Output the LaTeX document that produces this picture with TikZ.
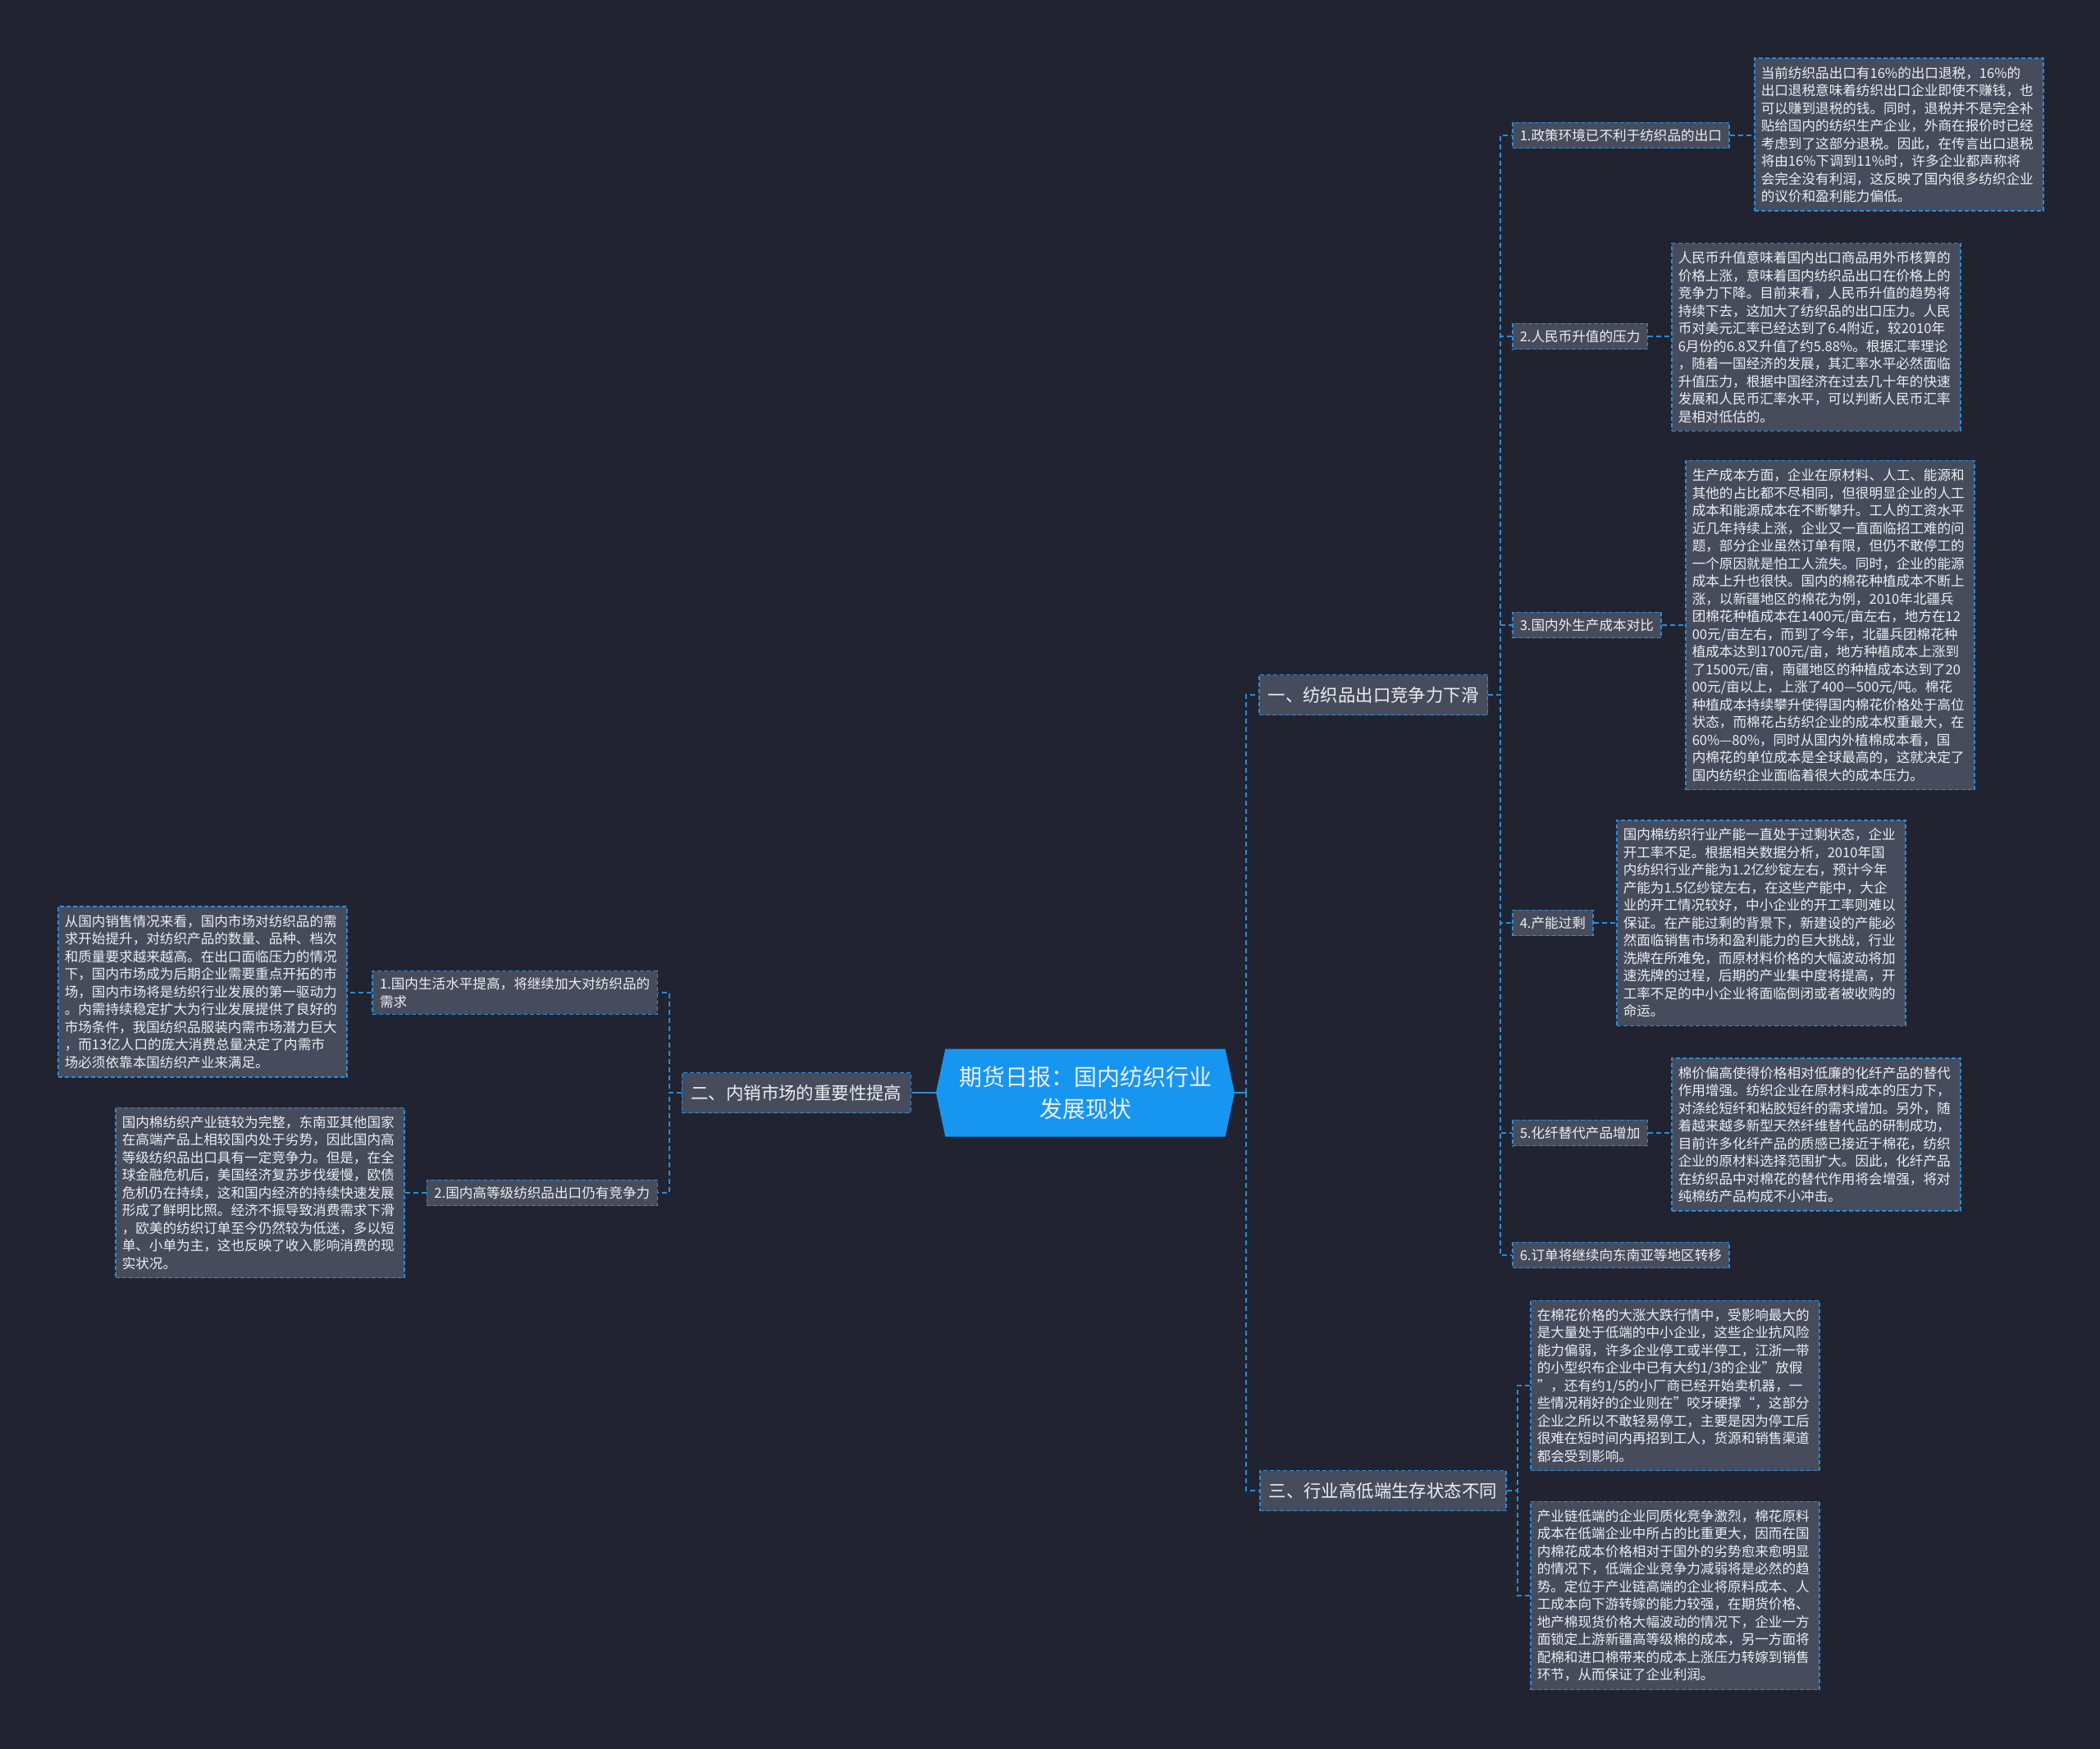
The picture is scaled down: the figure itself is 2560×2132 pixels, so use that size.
\documentclass[tikz,border=0pt]{standalone}
\usepackage{fontspec}
\setmainfont{Noto Sans CJK SC}
\usetikzlibrary{shapes.symbols}
\definecolor{bgcol}{RGB}{33,36,48}
\definecolor{boxcol}{RGB}{71,76,92}
\definecolor{linecol}{RGB}{40,140,220}
\definecolor{rootcol}{RGB}{22,150,240}
\definecolor{txtcol}{RGB}{236,238,242}
\tikzset{link/.style={draw=linecol, line width=1.8pt, dash pattern=on 6pt off 4pt},
        rootlink/.style={draw=linecol, line width=1.8pt},
        root/.style={signal, signal to=west and east, signal pointer angle=156,
                     fill=rootcol, text=txtcol, align=center,
                     font=\fontsize{28}{39}\selectfont,
                     minimum width=364pt, minimum height=107pt, inner sep=0pt},
        topic/.style={fill=boxcol, draw=linecol, line width=1.5pt, dash pattern=on 5pt off 3pt,
                      text=txtcol, font=\fontsize{21.4}{26}\selectfont,
                      minimum height=49pt, inner xsep=11pt, inner ysep=6pt},
        leaf/.style={fill=boxcol, draw=linecol, line width=1.5pt, dash pattern=on 5pt off 3pt,
                     text=txtcol, align=left, font=\fontsize{16.6}{21.5}\selectfont,
                     inner xsep=9pt, inner ysep=8pt},
        note/.style={fill=boxcol, draw=linecol, line width=1.5pt, dash pattern=on 5pt off 3pt,
                     text=txtcol, align=left, text width=336pt,
                     font=\fontsize{16.6}{21.5}\selectfont,
                     inner xsep=8pt, inner ysep=10pt},
        }

\begin{document}
\begin{tikzpicture}[x=1pt, y=-1pt]
    \fill[bgcol] (0,0) rectangle (2560,2132);
    \useasboundingbox (0,0) rectangle (2560,2132);

    \node[root] (root) at (1323,1332) {期货日报：国内纺织行业\\发展现状};

    \node[topic, anchor=west] (exp) at (1534,847) {一、纺织品出口竞争力下滑};
    \node[topic, anchor=east] (dom) at (1111,1332) {二、内销市场的重要性提高};
    \node[topic, anchor=west] (tier) at (1535,1817) {三、行业高低端生存状态不同};

    % export branch
    \node[leaf, anchor=west] (policy) at (1843,165) {1.政策环境已不利于纺织品的出口};
    \node[leaf, anchor=west] (rmb) at (1843,410) {2.人民币升值的压力};
    \node[leaf, anchor=west] (cost) at (1843,762) {3.国内外生产成本对比};
    \node[leaf, anchor=west] (over) at (1843,1125) {4.产能过剩};
    \node[leaf, anchor=west] (fiber) at (1843,1381) {5.化纤替代产品增加};
    \node[leaf, anchor=west] (order) at (1843,1530) {6.订单将继续向东南亚等地区转移};

    \node[note, anchor=west] (policyNote) at (2138,164) {当前纺织品出口有16\%的出口退税，16\%的\\出口退税意味着纺织出口企业即使不赚钱，也\\可以赚到退税的钱。同时，退税并不是完全补\\贴给国内的纺织生产企业，外商在报价时已经\\考虑到了这部分退税。因此，在传言出口退税\\将由16\%下调到11\%时，许多企业都声称将\\会完全没有利润，这反映了国内很多纺织企业\\的议价和盈利能力偏低。};
    \node[note, anchor=west] (rmbNote) at (2037,411) {人民币升值意味着国内出口商品用外币核算的\\价格上涨，意味着国内纺织品出口在价格上的\\竞争力下降。目前来看，人民币升值的趋势将\\持续下去，这加大了纺织品的出口压力。人民\\币对美元汇率已经达到了6.4附近，较2010年\\6月份的6.8又升值了约5.88\%。根据汇率理论\\，随着一国经济的发展，其汇率水平必然面临\\升值压力，根据中国经济在过去几十年的快速\\发展和人民币汇率水平，可以判断人民币汇率\\是相对低估的。};
    \node[note, anchor=west] (costNote) at (2054,762) {生产成本方面，企业在原材料、人工、能源和\\其他的占比都不尽相同，但很明显企业的人工\\成本和能源成本在不断攀升。工人的工资水平\\近几年持续上涨，企业又一直面临招工难的问\\题，部分企业虽然订单有限，但仍不敢停工的\\一个原因就是怕工人流失。同时，企业的能源\\成本上升也很快。国内的棉花种植成本不断上\\涨，以新疆地区的棉花为例，2010年北疆兵\\团棉花种植成本在1400元/亩左右，地方在12\\00元/亩左右，而到了今年，北疆兵团棉花种\\植成本达到1700元/亩，地方种植成本上涨到\\了1500元/亩，南疆地区的种植成本达到了20\\00元/亩以上，上涨了400—500元/吨。棉花\\种植成本持续攀升使得国内棉花价格处于高位\\状态，而棉花占纺织企业的成本权重最大，在\\60\%—80\%，同时从国内外植棉成本看，国\\内棉花的单位成本是全球最高的，这就决定了\\国内纺织企业面临着很大的成本压力。};
    \node[note, anchor=west] (overNote) at (1970,1125) {国内棉纺织行业产能一直处于过剩状态，企业\\开工率不足。根据相关数据分析，2010年国\\内纺织行业产能为1.2亿纱锭左右，预计今年\\产能为1.5亿纱锭左右，在这些产能中，大企\\业的开工情况较好，中小企业的开工率则难以\\保证。在产能过剩的背景下，新建设的产能必\\然面临销售市场和盈利能力的巨大挑战，行业\\洗牌在所难免，而原材料价格的大幅波动将加\\速洗牌的过程，后期的产业集中度将提高，开\\工率不足的中小企业将面临倒闭或者被收购的\\命运。};
    \node[note, anchor=west] (fiberNote) at (2037,1383) {棉价偏高使得价格相对低廉的化纤产品的替代\\作用增强。纺织企业在原材料成本的压力下，\\对涤纶短纤和粘胶短纤的需求增加。另外，随\\着越来越多新型天然纤维替代品的研制成功，\\目前许多化纤产品的质感已接近于棉花，纺织\\企业的原材料选择范围扩大。因此，化纤产品\\在纺织品中对棉花的替代作用将会增强，将对\\纯棉纺产品构成不小冲击。};

    % tier branch
    \node[note, anchor=west] (lowNote) at (1865,1689) {在棉花价格的大涨大跌行情中，受影响最大的\\是大量处于低端的中小企业，这些企业抗风险\\能力偏弱，许多企业停工或半停工，江浙一带\\的小型织布企业中已有大约1/3的企业”放假\\”，还有约1/5的小厂商已经开始卖机器，一\\些情况稍好的企业则在”咬牙硬撑“，这部分\\企业之所以不敢轻易停工，主要是因为停工后\\很难在短时间内再招到工人，货源和销售渠道\\都会受到影响。};
    \node[note, anchor=west] (highNote) at (1865,1945) {产业链低端的企业同质化竞争激烈，棉花原料\\成本在低端企业中所占的比重更大，因而在国\\内棉花成本价格相对于国外的劣势愈来愈明显\\的情况下，低端企业竞争力减弱将是必然的趋\\势。定位于产业链高端的企业将原料成本、人\\工成本向下游转嫁的能力较强，在期货价格、\\地产棉现货价格大幅波动的情况下，企业一方\\面锁定上游新疆高等级棉的成本，另一方面将\\配棉和进口棉带来的成本上涨压力转嫁到销售\\环节，从而保证了企业利润。};

    % domestic branch
    \node[leaf, anchor=east] (life) at (802,1210) {1.国内生活水平提高，将继续加大对纺织品的\\需求};
    \node[leaf, anchor=east] (grade) at (802,1454) {2.国内高等级纺织品出口仍有竞争力};
    \node[note, anchor=west] (lifeNote) at (70,1209) {从国内销售情况来看，国内市场对纺织品的需\\求开始提升，对纺织产品的数量、品种、档次\\和质量要求越来越高。在出口面临压力的情况\\下，国内市场成为后期企业需要重点开拓的市\\场，国内市场将是纺织行业发展的第一驱动力\\。内需持续稳定扩大为行业发展提供了良好的\\市场条件，我国纺织品服装内需市场潜力巨大\\，而13亿人口的庞大消费总量决定了内需市\\场必须依靠本国纺织产业来满足。};
    \node[note, anchor=west] (gradeNote) at (140,1454) {国内棉纺织产业链较为完整，东南亚其他国家\\在高端产品上相较国内处于劣势，因此国内高\\等级纺织品出口具有一定竞争力。但是，在全\\球金融危机后，美国经济复苏步伐缓慢，欧债\\危机仍在持续，这和国内经济的持续快速发展\\形成了鲜明比照。经济不振导致消费需求下滑\\，欧美的纺织订单至今仍然较为低迷，多以短\\单、小单为主，这也反映了收入影响消费的现\\实状况。};

    \draw[rootlink] (root.east) -- ++(14,0);
    \draw[link] (root.east) ++(14,0) |- (exp.west);
    \draw[link] (root.east) ++(14,0) |- (tier.west);
    \draw[rootlink] (root.west) -- (dom.east);

    \foreach \n in {policy,rmb,cost,over,fiber,order}
        \draw[link] (exp.east) -- ++(15,0) |- (\n.west);
    \foreach \n/\m in {policy/policyNote,rmb/rmbNote,cost/costNote,over/overNote,fiber/fiberNote}
        \draw[link] (\n.east) -- (\n.east -| \m.west);

    \draw[link] (tier.east) -- ++(13,0) |- (lowNote.west);
    \draw[link] (tier.east) -- ++(13,0) |- (highNote.west);

    \draw[link] (dom.west) -- ++(-15,0) |- (life.east);
    \draw[link] (dom.west) -- ++(-15,0) |- (grade.east);
    \draw[link] (life.west) -- (life.west -| lifeNote.east);
    \draw[link] (grade.west) -- (grade.west -| gradeNote.east);

\end{tikzpicture}
\end{document}
